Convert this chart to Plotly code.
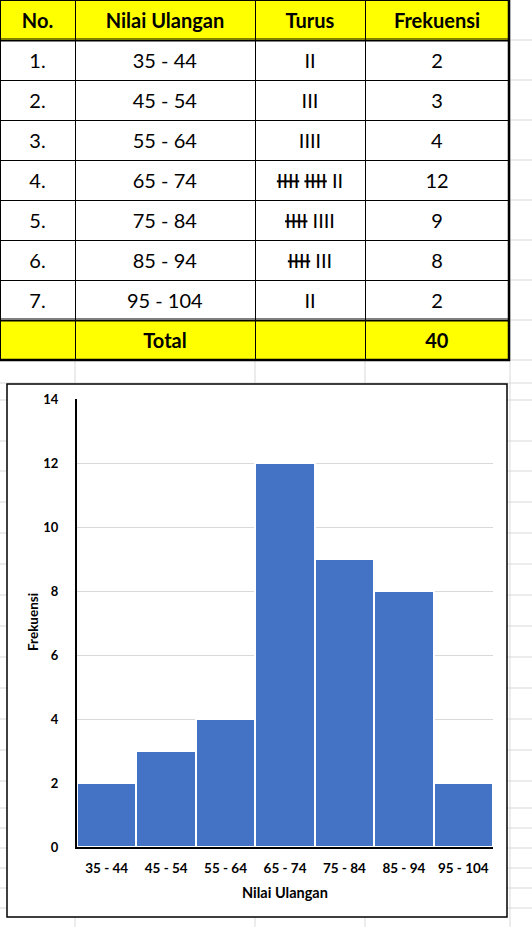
import plotly.graph_objects as go

W, H = 532, 927
FONT = "Lato"

nomor = ["1.", "2.", "3.", "4.", "5.", "6.", "7."]
nilai_ulangan = ["35 - 44", "45 - 54", "55 - 64", "65 - 74", "75 - 84", "85 - 94", "95 - 104"]
turus = ["II", "III", "IIII", "<s>IIII</s> <s>IIII</s> II", "<s>IIII</s> IIII", "<s>IIII</s> III", "II"]
frekuensi = [2, 3, 4, 12, 9, 8, 2]
kolom = ["No.", "Nilai Ulangan", "Turus", "Frekuensi"]


def px(x):
    return x / W


def py(y):
    return 1 - y / H


def sel(teks):
    # bungkus span supaya posisi vertikal teks sama di semua sel
    return f"<span>{teks}</span>"


total = sum(frekuensi)
col_no = [sel(v) for v in nomor] + [""]
col_nilai = [sel(v) for v in nilai_ulangan] + ["<b>Total</b>"]
col_turus = [sel(v) for v in turus] + [""]
col_frek = [sel(v) for v in frekuensi] + [f"<b>{total}</b>"]
warna_baris = ["white"] * len(nomor) + ["#ffff00"]

fig = go.Figure()

fig.add_trace(go.Table(
    domain=dict(x=[0, px(509)], y=[py(360), 1]),
    columnwidth=[75, 180, 110, 144],
    header=dict(
        values=[f"<b>{k}</b>" for k in kolom],
        fill_color="#ffff00",
        line=dict(color="black", width=1),
        height=40,
        align="center",
        font=dict(family=FONT, size=20, color="black"),
    ),
    cells=dict(
        values=[col_no, col_nilai, col_turus, col_frek],
        fill_color=[warna_baris] * 4,
        line=dict(color="black", width=1),
        height=40,
        align="center",
        font=dict(family=FONT, size=20, color="black"),
    ),
))

fig.add_trace(go.Bar(
    x=nilai_ulangan,
    y=frekuensi,
    marker=dict(color="#4472c4", line=dict(color="white", width=2)),
    hoverinfo="x+y",
))

# latar grid excel
shapes = []
abu = "#d9d9d9"
for y in [40 * i for i in range(1, 10)] + [383, 400, 441, 471, 502, 533, 564, 595, 626, 657, 688,
                                            719, 750, 781, 808, 828, 848, 868, 888, 908]:
    shapes.append(dict(type="line", xref="paper", yref="paper", x0=0, x1=1, y0=py(y), y1=py(y),
                       line=dict(color=abu, width=1), layer="below"))
for x in [75, 255, 365, 510]:
    shapes.append(dict(type="line", xref="paper", yref="paper", x0=px(x), x1=px(x), y0=0, y1=1,
                       line=dict(color=abu, width=1), layer="below"))
# kotak grafik
shapes.append(dict(type="rect", xref="paper", yref="paper", x0=px(7), x1=px(507), y0=py(917), y1=py(384),
                   line=dict(color="black", width=1.5), fillcolor="white", layer="below"))
# garis tebal tabel
for y, w in [(39, 1), (41, 1), (319, 1), (321, 1), (360, 2.5)]:
    shapes.append(dict(type="line", xref="paper", yref="paper", x0=0, x1=px(510), y0=py(y), y1=py(y),
                       line=dict(color="black", width=w), layer="above"))
shapes.append(dict(type="line", xref="paper", yref="paper", x0=px(509), x1=px(509), y0=py(361), y1=1,
                   line=dict(color="black", width=2.5), layer="above"))

fig.update_layout(
    width=W,
    height=H,
    margin=dict(l=0, r=0, t=0, b=0, pad=0),
    paper_bgcolor="white",
    plot_bgcolor="rgba(0,0,0,0)",
    showlegend=False,
    bargap=0,
    shapes=shapes,
    font=dict(family=FONT, color="black"),
    xaxis=dict(
        domain=[px(77), px(493)],
        showline=True, linecolor="black", linewidth=2,
        ticks="", tickfont=dict(family=FONT, size=13.5, color="black", weight="bold"),
        ticklabelstandoff=8, automargin=False,
        showgrid=False, fixedrange=True,
    ),
    yaxis=dict(
        domain=[py(847), py(399)],
        range=[0, 14], dtick=2,
        showline=True, linecolor="black", linewidth=2,
        ticks="", tickfont=dict(family=FONT, size=13, color="black", weight="bold"),
        ticklabelstandoff=14, automargin=False,
        showgrid=True, gridcolor="#d9d9d9", gridwidth=1,
        zeroline=False, fixedrange=True,
    ),
    annotations=[
        dict(text="<b>Nilai Ulangan</b>", xref="paper", yref="paper", x=px(285), y=py(892),
             xanchor="center", yanchor="middle",
             showarrow=False, font=dict(family=FONT, size=14.5, color="black")),
        dict(text="<b>Frekuensi</b>", xref="paper", yref="paper", x=px(33), y=py(622),
             xanchor="center", yanchor="middle",
             showarrow=False, textangle=-90, font=dict(family=FONT, size=13.5, color="black")),
    ],
)

fig.write_html("out.html", config={"displayModeBar": False},
               post_script="document.body.style.margin='0px';")
